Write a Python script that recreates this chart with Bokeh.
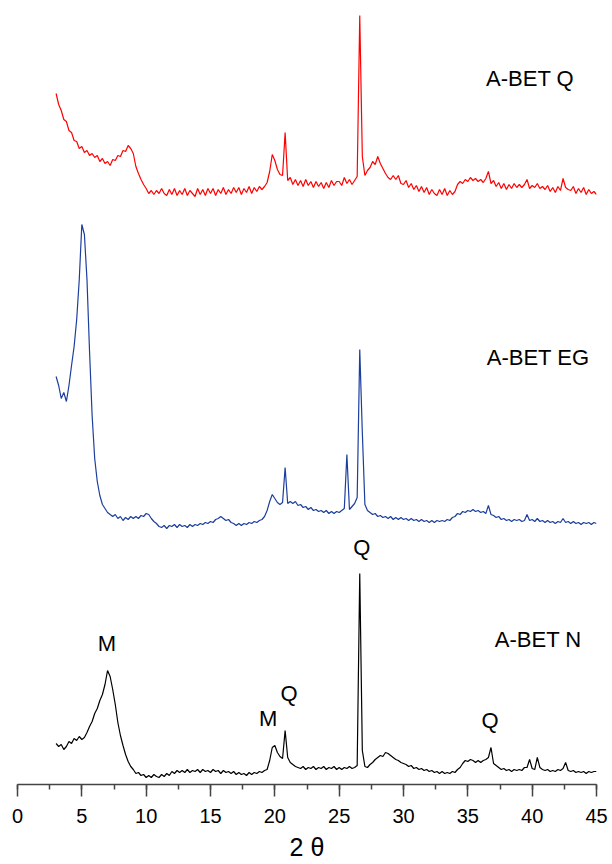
from bokeh.plotting import figure
from bokeh.models import Label, SingleIntervalTicker, ColumnDataSource
from bokeh.embed import file_html
from bokeh.resources import INLINE

# 2-theta scan positions (degrees), step 0.2
two_theta = [round(3.0 + 0.2 * i, 1) for i in range(211)]

# Intensities (arbitrary units, traces already offset vertically)
bet_q = [
    691, 680, 674, 665, 663, 654, 652, 644, 643, 636,
    638, 632, 634, 629, 631, 627, 629, 623, 626, 621,
    623, 619, 625, 624, 629, 628, 634, 633, 639, 636,
    631, 618, 611, 605, 600, 596, 591, 594, 590, 594,
    591, 596, 591, 589, 595, 590, 596, 589, 594, 590,
    596, 589, 594, 591, 588, 596, 590, 595, 589, 596,
    591, 596, 589, 595, 591, 597, 590, 595, 591, 597,
    592, 597, 590, 596, 592, 598, 591, 597, 593, 598,
    595, 598, 602, 613, 630, 624, 615, 610, 609, 652,
    604, 607, 600, 605, 599, 604, 598, 605, 599, 603,
    597, 603, 598, 602, 596, 602, 597, 604, 599, 603,
    603, 599, 607, 601, 605, 600, 604, 608, 769, 628,
    609, 614, 617, 623, 620, 628, 621, 616, 611, 607,
    605, 609, 605, 609, 601, 600, 604, 597, 601, 595,
    599, 593, 598, 592, 597, 590, 595, 591, 589, 595,
    590, 596, 589, 594, 590, 593, 600, 603, 601, 605,
    603, 607, 604, 606, 603, 605, 602, 606, 613, 601,
    604, 598, 602, 596, 601, 595, 600, 596, 601, 597,
    600, 597, 600, 605, 596, 599, 597, 601, 596, 598,
    595, 599, 593, 597, 592, 598, 594, 606, 597, 595,
    594, 598, 591, 596, 592, 597, 590, 595, 591, 593,
    590,
]

bet_eg = [
    408, 399, 386, 392, 383, 399, 419, 438, 465, 505,
    560, 550, 505, 433, 369, 326, 303, 289, 280, 276,
    272, 270, 268, 270, 266, 268, 264, 267, 265, 268,
    266, 268, 266, 269, 268, 271, 270, 266, 263, 261,
    258, 257, 259, 256, 259, 258, 260, 257, 260, 258,
    259, 257, 260, 258, 260, 259, 261, 260, 262, 261,
    263, 262, 265, 266, 268, 266, 264, 265, 262, 261,
    259, 261, 259, 261, 260, 262, 261, 263, 262, 264,
    265, 268, 274, 283, 290, 286, 282, 280, 282, 317,
    281, 283, 281, 283, 279, 280, 277, 278, 275, 277,
    274, 275, 273, 274, 272, 274, 271, 273, 271, 273,
    272, 274, 276, 330, 275, 278, 281, 287, 435, 352,
    280, 274, 272, 270, 271, 268, 269, 267, 268, 266,
    268, 265, 267, 265, 267, 265, 266, 264, 266, 264,
    265, 263, 265, 263, 264, 262, 264, 262, 264, 263,
    264, 263, 265, 264, 267, 268, 271, 270, 273, 272,
    274, 273, 275, 273, 274, 272, 273, 271, 279, 270,
    269, 267, 268, 265, 266, 264, 265, 263, 265, 264,
    265, 263, 264, 270, 264, 265, 263, 266, 263, 264,
    262, 264, 262, 263, 261, 263, 262, 266, 262, 263,
    261, 263, 261, 262, 260, 262, 261, 262, 260, 262,
    261,
]

bet_n = [
    41, 38, 40, 35, 38, 43, 41, 46, 44, 48,
    45, 47, 52, 58, 63, 71, 76, 84, 90, 100,
    114, 108, 95, 80, 62, 49, 39, 30, 23, 18,
    15, 11, 12, 9, 10, 7, 9, 7, 10, 8,
    7, 10, 8, 11, 9, 13, 11, 14, 12, 14,
    12, 15, 12, 14, 13, 15, 12, 15, 13, 14,
    12, 15, 13, 14, 11, 14, 12, 13, 11, 13,
    10, 12, 10, 11, 9, 12, 10, 12, 11, 13,
    12, 14, 15, 24, 37, 39, 32, 28, 26, 54,
    27, 22, 20, 18, 17, 16, 18, 15, 17, 16,
    18, 15, 17, 16, 18, 15, 17, 16, 18, 15,
    17, 15, 17, 16, 18, 16, 17, 19, 211, 34,
    18, 17, 20, 22, 25, 27, 29, 28, 32, 31,
    29, 27, 25, 24, 22, 21, 20, 18, 19, 16,
    17, 15, 16, 14, 15, 13, 14, 12, 13, 11,
    13, 11, 12, 11, 13, 12, 15, 17, 21, 24,
    23, 25, 24, 22, 24, 22, 24, 25, 27, 37,
    21, 19, 17, 15, 16, 14, 15, 13, 15, 14,
    15, 14, 17, 17, 25, 16, 15, 27, 17, 15,
    14, 15, 13, 14, 13, 15, 14, 16, 22, 14,
    13, 14, 12, 13, 12, 13, 11, 13, 12, 13,
    13,
]

series_names = ["A-BET Q", "A-BET EG", "A-BET N"]
series_colors = ["#ff0000", "#1c3f9e", "#000000"]
series_label_pos = [(36.42, 706), (36.47, 427), (37.1, 145)]

peak_labels = ["M", "M", "Q", "Q", "Q"]
peak_label_x = [6.95, 19.48, 21.1, 26.76, 36.73]
peak_label_y = [141, 66, 91, 237, 64]

FONT = "Liberation Sans"

p = figure(width=612, height=864, x_range=(0, 45), y_range=(0, 776),
           output_backend="svg", toolbar_location=None,
           min_border_left=17, min_border_right=16, min_border_top=8,
           min_border_bottom=80, y_axis_location=None,
           background_fill_color="white", border_fill_color="white")
p.outline_line_color = None
p.xgrid.visible = False
p.ygrid.visible = False

for ys, c in zip([bet_q, bet_eg, bet_n], series_colors):
    src = ColumnDataSource(dict(x=two_theta, y=ys))
    p.line("x", "y", source=src, line_color=c, line_width=1.2)

ax = p.xaxis[0]
ax.ticker = SingleIntervalTicker(interval=5, num_minor_ticks=2)
ax.axis_line_color = "#444444"
ax.axis_line_width = 1.5
ax.major_tick_line_color = "#444444"
ax.major_tick_line_width = 1.5
ax.minor_tick_line_color = "#444444"
ax.minor_tick_line_width = 1.5
ax.major_tick_in = 0
ax.major_tick_out = 12
ax.minor_tick_in = 0
ax.minor_tick_out = 5
ax.major_label_standoff = 12
ax.major_label_text_font = FONT
ax.major_label_text_font_size = "20px"
ax.major_label_text_color = "black"
ax.axis_label = "2 θ"
ax.axis_label_standoff = 7
ax.axis_label_text_line_height = 0.75
ax.axis_label_text_font = FONT
ax.axis_label_text_font_size = "25px"
ax.axis_label_text_font_style = "normal"
ax.axis_label_text_color = "black"

for name, (lx, ly) in zip(series_names, series_label_pos):
    p.add_layout(Label(x=lx, y=ly, text=name, text_align="left",
                       text_baseline="middle", text_font=FONT,
                       text_font_size="22px", text_color="black"))

for t, lx, ly in zip(peak_labels, peak_label_x, peak_label_y):
    p.add_layout(Label(x=lx, y=ly, text=t, text_align="center",
                       text_baseline="middle", text_font=FONT,
                       text_font_size="22px", text_color="black"))

open("out.html", "w").write(file_html(p, INLINE))
